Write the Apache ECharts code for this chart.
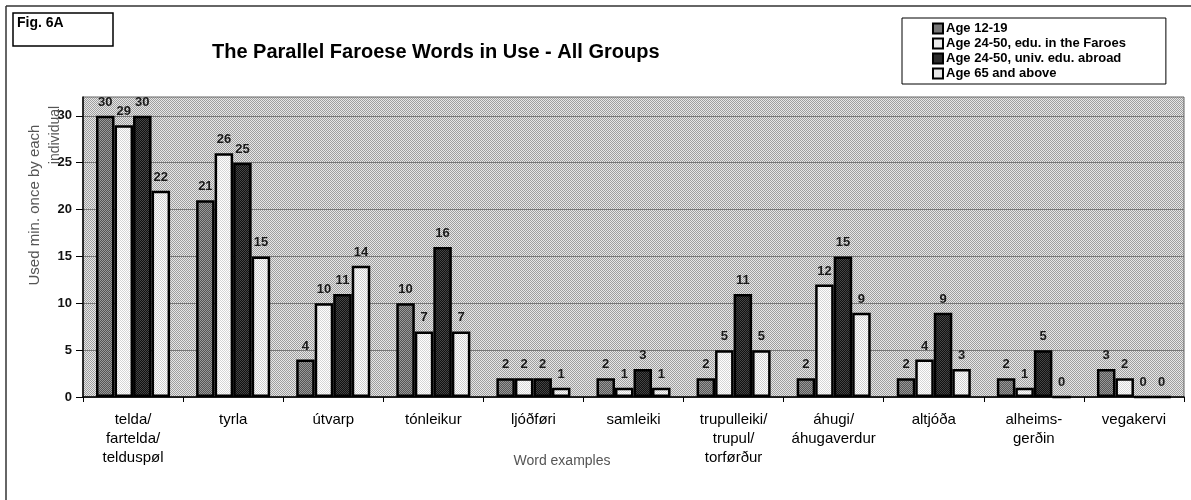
<!DOCTYPE html>
<html>
<head>
<meta charset="utf-8">
<title>The Parallel Faroese Words in Use - All Groups</title>
<script src="https://cdn.jsdelivr.net/npm/echarts@6/dist/echarts.min.js"></script>
<style>
  html, body { margin: 0; padding: 0; background: #fff; }
  #chart { width: 1191px; height: 500px; }
</style>
</head>
<body>
<div id="chart"></div>
<script>
// Word examples on the category axis
const categories = [
  'telda/\nfartelda/\ntelduspøl', 'tyrla', 'útvarp', 'tónleikur', 'ljóðføri',
  'samleiki', 'trupulleiki/\ntrupul/\ntorførður', 'áhugi/\náhugaverdur',
  'altjóða', 'alheims-\ngerðin', 'vegakervi'
];

// Number of individuals per group who used each word at least once
const seriesNames = [
  'Age 12-19',
  'Age 24-50, edu. in the Faroes',
  'Age 24-50, univ. edu. abroad',
  'Age 65 and above'
];
const age12to19      = [30, 21, 4, 10, 2, 2, 2, 2, 2, 2, 3];
const age24to50Faroe = [29, 26, 10, 7, 2, 1, 5, 12, 4, 1, 2];
const age24to50Abroad = [30, 25, 11, 16, 2, 3, 11, 15, 9, 5, 0];
const age65plus      = [22, 15, 14, 7, 1, 1, 5, 9, 3, 0, 0];

const yTicks = [0, 5, 10, 15, 20, 25, 30];

// 2x2 checker tile used as a fill pattern
function checker(a, b) {
  const c = document.createElement('canvas');
  c.width = 2; c.height = 2;
  const g = c.getContext('2d');
  g.fillStyle = a; g.fillRect(0, 0, 2, 2);
  g.fillStyle = b; g.fillRect(0, 0, 1, 1); g.fillRect(1, 1, 1, 1);
  return { image: c, repeat: 'repeat' };
}

const fills = [
  checker('#555555', '#9a9a9a'),
  checker('#ffffff', '#d6d6d6'),
  checker('#111111', '#454545'),
  checker('#ffffff', '#cecece')
];
const seriesData = [age12to19, age24to50Faroe, age24to50Abroad, age65plus];

const chart = echarts.init(document.getElementById('chart'), null, { renderer: 'canvas' });

const option = {
  backgroundColor: '#ffffff',
  animation: false,
  textStyle: { fontFamily: 'Liberation Sans, Arial, sans-serif' },
  legend: {
    orient: 'vertical',
    left: 902,
    top: 18,
    padding: [3, 40, 3, 30],
    itemWidth: 10,
    itemHeight: 10,
    itemGap: 0,
    borderColor: '#000',
    borderWidth: 1,
    backgroundColor: '#fff',
    icon: 'rect',
    textStyle: { fontSize: 13, fontWeight: 'bold', color: '#000', padding: [0, 0, 0, -2], lineHeight: 15 },
    data: seriesNames
  },
  grid: {
    left: 83, right: 7, top: 97, bottom: 103,
    show: true,
    backgroundColor: checker('#e6e6e6', '#9e9e9e'),
    borderColor: '#666',
    borderWidth: 1
  },
  xAxis: {
    type: 'category',
    data: categories,
    axisLine: { lineStyle: { color: '#000', width: 1.5 } },
    axisTick: { show: true, length: 5, lineStyle: { color: '#000' } },
    axisLabel: { interval: 0, fontSize: 15, color: '#000', lineHeight: 19, margin: 13 },
    splitLine: { show: false }
  },
  yAxis: {
    type: 'value',
    min: 0, max: 32, interval: 5,
    axisLine: { show: true, lineStyle: { color: '#000', width: 1.5 } },
    axisTick: { show: true, length: 7, lineStyle: { color: '#000' }, customValues: yTicks },
    axisLabel: { fontSize: 13, fontWeight: 'bold', color: '#111', margin: 11, customValues: yTicks },
    splitLine: { show: true, lineStyle: { color: '#777', width: 1 } }
  },
  series: seriesNames.map((name, i) => ({
    name: name,
    type: 'bar',
    data: seriesData[i],
    barGap: '0%',
    barCategoryGap: '26%',
    itemStyle: { color: fills[i], borderColor: '#000', borderWidth: 2.5 },
    label: {
      show: true, position: 'top', distance: 7,
      fontSize: 13, fontWeight: 'bold', color: '#1a1a1a'
    }
  })),
  graphic: [
    // outer frame edges
    { type: 'line', shape: { x1: 6, y1: 6, x2: 1191, y2: 6 }, style: { stroke: '#333', lineWidth: 1.5 } },
    { type: 'line', shape: { x1: 6, y1: 6, x2: 6, y2: 500 }, style: { stroke: '#333', lineWidth: 1.5 } },
    // figure tag
    { type: 'rect', shape: { x: 13, y: 13, width: 100, height: 33 }, style: { fill: '#fff', stroke: '#000', lineWidth: 1.5 } },
    { type: 'text', left: 17, top: 16, style: { text: 'Fig. 6A', font: 'bold 14px Liberation Sans, Arial, sans-serif', fill: '#000' } },
    // title
    { type: 'text', left: 212, top: 42, style: { text: 'The Parallel Faroese Words in Use - All Groups', font: 'bold 20px Liberation Sans, Arial, sans-serif', fill: '#000' } },
    // y-axis title, two lines
    { type: 'text', x: 35, y: 205, rotation: Math.PI / 2, style: { text: 'Used min. once by each', font: '15px Liberation Sans, Arial, sans-serif', fill: '#555', align: 'center', verticalAlign: 'middle' } },
    { type: 'text', x: 55, y: 135, rotation: Math.PI / 2, style: { text: 'individual', font: '14px Liberation Sans, Arial, sans-serif', fill: '#555', align: 'center', verticalAlign: 'middle' } },
    // x-axis title
    { type: 'text', x: 562, y: 461, style: { text: 'Word examples', font: '14px Liberation Sans, Arial, sans-serif', fill: '#555', align: 'center', verticalAlign: 'middle' } }
  ]
};

chart.setOption(option);
</script>
</body>
</html>
